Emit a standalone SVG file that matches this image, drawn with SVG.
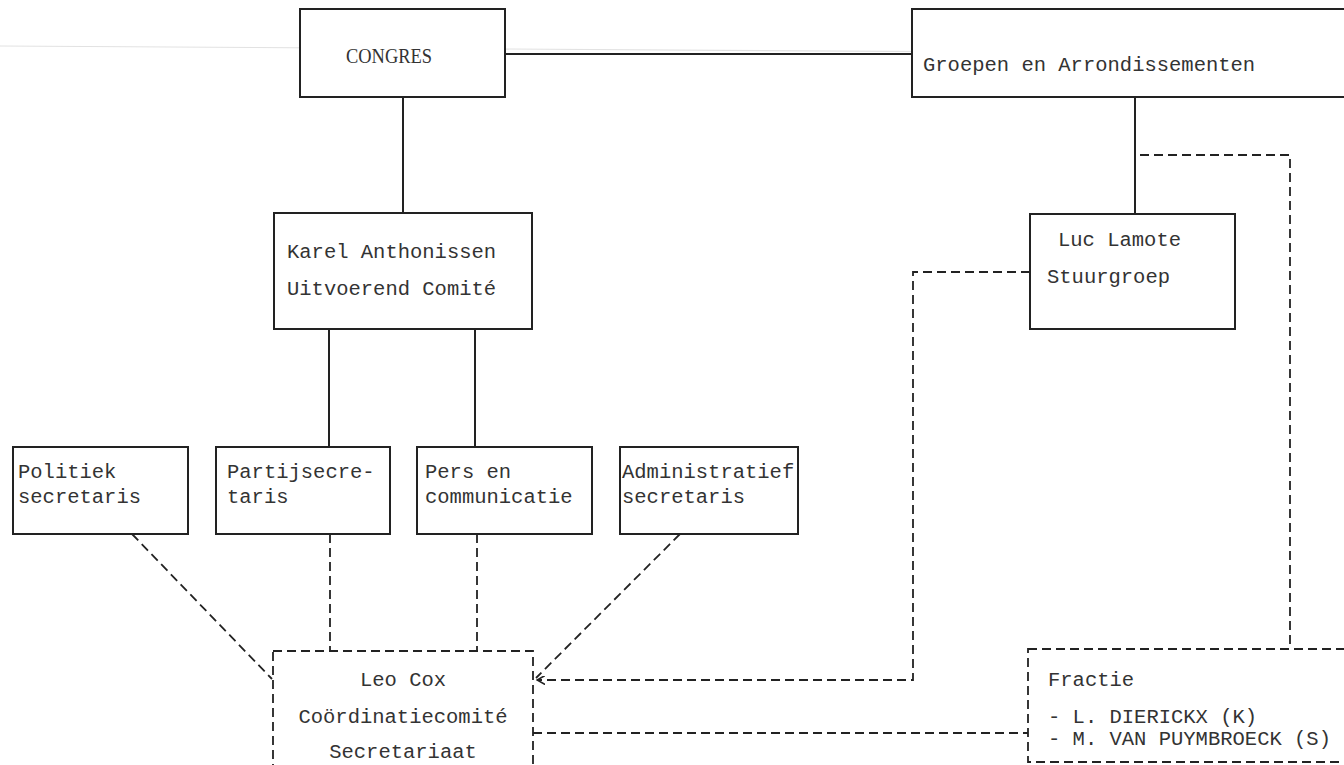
<svg xmlns="http://www.w3.org/2000/svg" width="1344" height="765" viewBox="0 0 1344 765">
  <style>
    .box { fill: #fff; stroke: #222; stroke-width: 2; }
    .dbox { fill: #fff; stroke: #222; stroke-width: 1.8; stroke-dasharray: 9 5; }
    .solid { fill: none; stroke: #222; stroke-width: 2; }
    .dash { fill: none; stroke: #222; stroke-width: 1.8; stroke-dasharray: 9 5; }
    .t { font-family: "Liberation Mono", "DejaVu Sans Mono", monospace; font-size: 20.5px; fill: #333; }
    .serif { font-family: "Liberation Serif", "DejaVu Serif", serif; font-size: 21px; fill: #333; }
  </style>
  <defs>
    <marker id="arr" viewBox="0 0 10 10" refX="9" refY="5" markerWidth="9" markerHeight="9" orient="auto-start-reverse" markerUnits="userSpaceOnUse">
      <path d="M0,0 L9,5 L0,10" fill="none" stroke="#222" stroke-width="1.8"/>
    </marker>
  </defs>
  <rect width="1344" height="765" fill="#fff"/>
  <line x1="0" y1="46" x2="1344" y2="54" stroke="#e2e2e2" stroke-width="1.2"/>

  <g id="connectors">
    <line class="solid" x1="505" y1="54" x2="912" y2="54"/>
    <line class="solid" x1="403" y1="97" x2="403" y2="213"/>
    <line class="solid" x1="1135" y1="97" x2="1135" y2="214"/>
    <line class="solid" x1="329" y1="329" x2="329" y2="447"/>
    <line class="solid" x1="475" y1="329" x2="475" y2="447"/>
    <polyline class="dash" points="1140,155 1290,155 1290,649"/>
    <polyline class="dash" points="1030,272 913,272 913,680 537,680" marker-end="url(#arr)"/>
    <line class="dash" x1="132" y1="534" x2="272" y2="679"/>
    <line class="dash" x1="330" y1="534" x2="330" y2="651"/>
    <line class="dash" x1="477" y1="534" x2="477" y2="651"/>
    <line class="dash" x1="680" y1="534" x2="536" y2="678"/>
    <line class="dash" x1="533" y1="733" x2="1028" y2="733"/>
  </g>

  <g id="congres">
    <rect class="box" x="300" y="9" width="205" height="88"/>
    <text class="serif" x="346" y="63" textLength="86" lengthAdjust="spacingAndGlyphs">CONGRES</text>
  </g>
  <g id="groepen">
    <rect class="box" x="912" y="9" width="440" height="88"/>
    <text class="t" x="923" y="71">Groepen en Arrondissementen</text>
  </g>
  <g id="karel">
    <rect class="box" x="274" y="213" width="258" height="116"/>
    <text class="t" x="287" y="258">Karel Anthonissen</text>
    <text class="t" x="287" y="295">Uitvoerend Comité</text>
  </g>
  <g id="luc">
    <rect class="box" x="1030" y="214" width="205" height="115"/>
    <text class="t" x="1058" y="246">Luc Lamote</text>
    <text class="t" x="1047" y="283">Stuurgroep</text>
  </g>
  <g id="politiek">
    <rect class="box" x="13" y="447" width="175" height="87"/>
    <text class="t" x="18" y="478">Politiek</text>
    <text class="t" x="18" y="503">secretaris</text>
  </g>
  <g id="partij">
    <rect class="box" x="216" y="447" width="174" height="87"/>
    <text class="t" x="227" y="478">Partijsecre-</text>
    <text class="t" x="227" y="503">taris</text>
  </g>
  <g id="pers">
    <rect class="box" x="417" y="447" width="175" height="87"/>
    <text class="t" x="425" y="478">Pers en</text>
    <text class="t" x="425" y="503">communicatie</text>
  </g>
  <g id="admin">
    <rect class="box" x="620" y="447" width="178" height="87"/>
    <text class="t" x="622" y="478">Administratief</text>
    <text class="t" x="622" y="503">secretaris</text>
  </g>
  <g id="leo">
    <rect class="dbox" x="273" y="651" width="260" height="130"/>
    <text class="t" x="403" y="686" text-anchor="middle">Leo Cox</text>
    <text class="t" x="403" y="723" text-anchor="middle">Coördinatiecomité</text>
    <text class="t" x="403" y="758" text-anchor="middle">Secretariaat</text>
  </g>
  <g id="fractie">
    <rect class="dbox" x="1028" y="649" width="330" height="113"/>
    <text class="t" x="1048" y="686">Fractie</text>
    <text class="t" x="1048" y="723">- L. DIERICKX (K)</text>
    <text class="t" x="1048" y="745">- M. VAN PUYMBROECK (S)</text>
  </g>
</svg>
